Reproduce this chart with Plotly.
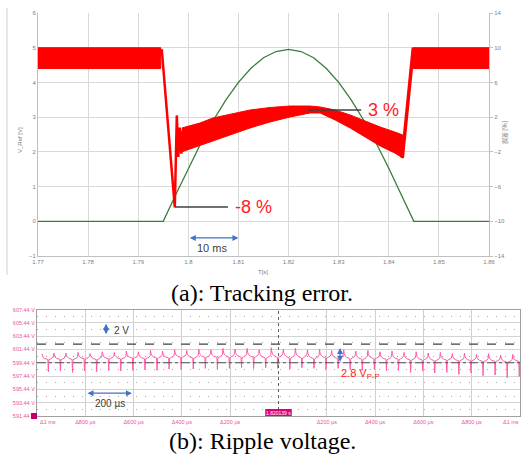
import plotly.graph_objects as go

W, H = 523, 458

# ---------------- (a) tracking error data ----------------
top_xticks = [1.77, 1.78, 1.79, 1.80, 1.81, 1.82, 1.83, 1.84, 1.85, 1.86]
top_xlabels = ["1.77", "1.78", "1.79", "1.8", "1.81", "1.82", "1.83", "1.84", "1.85", "1.86"]
left_ticks = [-1, 0, 1, 2, 3, 4, 5, 6]
right_ticks = [-14, -10, -6, -2, 2, 6, 10, 14]

# reference voltage V_Ref [V]
green_t = [1.77, 1.795, 1.7975, 1.80, 1.8025, 1.805, 1.8075, 1.81, 1.8125, 1.815, 1.8175,
           1.82, 1.8225, 1.825, 1.8275, 1.83, 1.8325, 1.835, 1.8375, 1.84, 1.8425, 1.845, 1.86]
green_v = [0, 0, 0.77, 1.53, 2.25, 2.91, 3.50, 4.00, 4.41, 4.71, 4.89,
           4.95, 4.89, 4.71, 4.41, 4.00, 3.50, 2.91, 2.25, 1.53, 0.77, 0, 0]

# error [%] : noisy band envelopes
band1_t = [1.77, 1.7945]
band1_hi = [10.0, 10.0]
band1_lo = [7.6, 7.6]

band2_t = [1.7987, 1.8023, 1.8049, 1.8083, 1.8123, 1.8163, 1.8203, 1.8243, 1.8263,
           1.8293, 1.8323, 1.8353, 1.8383, 1.8412, 1.8428]
band2_hi = [0.75, 1.32, 1.90, 2.36, 2.82, 3.11, 3.28, 3.28, 3.17, 2.82, 2.25, 1.55, 0.86, 0.29, -0.06]
band2_lo = [-2.0, -1.33, -0.75, -0.06, 0.75, 1.44, 2.02, 2.48, 2.48, 1.67, 0.75, -0.29, -1.33, -2.13, -2.71]

band3_t = [1.8448, 1.86]
band3_hi = [10.0, 10.0]
band3_lo = [7.6, 7.6]

drop_t = [1.7944, 1.7947, 1.7973, 1.7975, 1.7977, 1.7980, 1.7983, 1.7986, 1.7989]
drop_v = [9.2, 9.8, -8.4, -3.0, 2.2, -2.6, 0.8, -2.2, 0.5]

rise_t = [1.8427, 1.8444, 1.8449]
rise_v = [-2.7, 7.6, 10.0]

# ---------------- (b) ripple voltage data ----------------
osc_xticks = [-800, -600, -400, -200, 200, 400, 600, 800]
osc_xlabels = ["Δ800 µs", "Δ600 µs", "Δ400 µs", "Δ200 µs", "Δ200 µs", "Δ400 µs", "Δ600 µs", "Δ800 µs"]
osc_yticks = [591.44, 593.44, 595.44, 597.44, 599.44, 601.44, 603.44, 605.44, 607.44]
osc_ylabels = ["591.44 V", "593.44 V", "595.44 V", "597.44 V", "599.44 V",
               "601.44 V", "603.44 V", "605.44 V", "607.44 V"]

ripple_first_peak = -980.0   # µs
ripple_period = 50.0         # µs
ripple_peak = [600.8, 600.9, 600.9, 601.0, 600.8, 601.1, 601.0, 601.2, 601.1, 601.3,
               601.2, 601.4, 601.3, 601.5, 601.4, 601.6, 601.5, 601.6, 601.4, 601.7,
               601.5, 601.6, 601.4, 601.5, 601.3, 601.4, 601.2, 601.3, 601.1, 601.2,
               601.0, 601.1, 600.9, 601.0, 600.8, 600.9, 600.7, 600.8, 600.6, 600.7]
ripple_base = [599.9, 599.9, 599.9, 600.0, 599.9, 600.0, 600.0, 600.1, 600.0, 600.1,
               600.1, 600.2, 600.1, 600.2, 600.2, 600.2, 600.2, 600.2, 600.1, 600.2,
               600.1, 600.1, 600.0, 600.1, 600.0, 600.0, 599.9, 600.0, 599.9, 599.9,
               599.8, 599.8, 599.7, 599.8, 599.7, 599.7, 599.6, 599.6, 599.5, 599.6]
ripple_dip = [598.1, 598.2, 598.0, 598.2, 598.1, 598.3, 598.2, 598.3, 598.4, 598.3,
              598.5, 598.4, 598.5, 598.6, 598.5, 598.6, 598.7, 598.6, 598.7, 598.6,
              598.5, 598.7, 598.6, 598.5, 598.6, 598.4, 598.3, 598.4, 598.2, 598.3,
              598.0, 598.2, 597.9, 598.0, 597.7, 597.9, 597.5, 597.6, 597.2, 597.4]
shape_off = [0, 2, 6, 12, 20, 25, 27, 29, 36, 44, 48]
shape_w = [1.0, 0.6, 0.35, 0.2, 0.1, 0.05, None, 0.0, 0.12, 0.25, 0.45]

rip_x, rip_y = [], []
for i in range(len(ripple_peak)):
    t0 = ripple_first_peak + i * ripple_period
    p, b, d = ripple_peak[i], ripple_base[i], ripple_dip[i]
    for off, w in zip(shape_off, shape_w):
        rip_x.append(t0 + off)
        rip_y.append(d if w is None else b + w * (p - b))

RED = "#ff0000"
GREEN = "#3a7d3a"
BLUE = "#4472c4"
PINK = "#f0509a"
GRID = "#d9d9d9"

fig = go.Figure()

fig.add_trace(go.Scatter(x=green_t, y=green_v, xaxis="x", yaxis="y", mode="lines",
                         line=dict(color=GREEN, width=1.3)))
for bt, bh, bl in [(band1_t, band1_hi, band1_lo), (band2_t, band2_hi, band2_lo),
                   (band3_t, band3_hi, band3_lo)]:
    fig.add_trace(go.Scatter(x=bt + bt[::-1], y=bh + bl[::-1], xaxis="x", yaxis="y2",
                             mode="lines", fill="toself", fillcolor=RED,
                             line=dict(color=RED, width=1)))
fig.add_trace(go.Scatter(x=drop_t, y=drop_v, xaxis="x", yaxis="y2", mode="lines",
                         line=dict(color=RED, width=2.5)))
fig.add_trace(go.Scatter(x=rise_t, y=rise_v, xaxis="x", yaxis="y2", mode="lines",
                         line=dict(color=RED, width=3.5)))

fig.add_trace(go.Scatter(x=rip_x, y=rip_y, xaxis="x3", yaxis="y3", mode="lines",
                         line=dict(color="#ff5aa8", width=1)))

tick_font = dict(family="Liberation Sans, Arial", size=6, color="#808080")
osc_font = dict(family="Liberation Sans, Arial", size=5.5, color=PINK)

fig.update_layout(
    width=W, height=H, autosize=False,
    margin=dict(l=0, r=0, t=0, b=0),
    paper_bgcolor="white", plot_bgcolor="white",
    showlegend=False, hovermode=False,
    xaxis=dict(domain=[38 / W, 489 / W], range=[1.77, 1.86], anchor="y",
               tickvals=top_xticks, ticktext=top_xlabels, showgrid=True, gridcolor=GRID,
               showline=True, linecolor="#bfbfbf", zeroline=False, ticks="",
               tickfont=tick_font, automargin=False),
    yaxis=dict(domain=[1 - 256 / H, 1 - 13 / H], range=[-1, 6], anchor="x",
               tickvals=left_ticks, showgrid=True, gridcolor=GRID, showline=True,
               linecolor="#bfbfbf", zeroline=False, ticks="", tickfont=tick_font,
               automargin=False),
    yaxis2=dict(overlaying="y", side="right", range=[-14, 14], anchor="x",
                tickvals=right_ticks, showgrid=False, showline=True, linecolor="#bfbfbf",
                ticks="outside", ticklen=3, tickcolor="#bfbfbf", zeroline=False,
                tickfont=tick_font, automargin=False),
    xaxis3=dict(domain=[37 / W, 520 / W], range=[-1000, 1000], anchor="y3",
                tickvals=osc_xticks, ticktext=osc_xlabels, showgrid=True, gridcolor="#cfcfcf",
                showline=True, mirror=True, linecolor="#a0a0a0", zeroline=False, ticks="",
                tickfont=osc_font, automargin=False),
    yaxis3=dict(domain=[1 - 416 / H, 1 - 309.6 / H], range=[591.44, 607.44], anchor="x3",
                tickvals=osc_yticks, ticktext=osc_ylabels, showgrid=True, gridcolor="#d4d4d4",
                showline=True, mirror=True, linecolor="#a0a0a0", zeroline=False, ticks="",
                tickfont=osc_font, automargin=False,
                minor=dict(tick0=592.44, dtick=2, showgrid=True, griddash="1px,8px",
                           gridcolor="#a8a8a8", ticks="")),
)

shapes = [
    # chart-area border on the left of (a)
    dict(type="line", xref="paper", yref="paper", x0=7 / W, x1=7 / W, y0=1 - 8 / H, y1=1 - 275 / H,
         line=dict(color="#d0d0d0", width=1)),
    # leader lines
    dict(type="line", xref="x", yref="y2", x0=1.7974, x1=1.8079, y0=-8.36, y1=-8.36,
         line=dict(color="#404040", width=1.5)),
    dict(type="line", xref="x", yref="y2", x0=1.8239, x1=1.8345, y0=2.82, y1=2.82,
         line=dict(color="#404040", width=1.5)),
    # oscilloscope lines
    dict(type="line", xref="x3", yref="y3", x0=0, x1=0, y0=591.44, y1=607.44,
         line=dict(color="#606060", width=1, dash="dot")),
    dict(type="line", xref="x3", yref="y3", x0=-1000, x1=1000, y0=602.24, y1=602.24,
         line=dict(color="#404040", width=1.3, dash="dash")),
    dict(type="line", xref="x3", yref="y3", x0=-1000, x1=1000, y0=599.44, y1=599.44,
         line=dict(color="#505050", width=1.1, dash="dashdot")),
    # trigger time box and ground marker
    dict(type="rect", xref="x3", yref="paper", x0=-55, x1=55, y0=1 - 416 / H, y1=1 - 409 / H,
         fillcolor="#e0007a", line=dict(width=0)),
    dict(type="rect", xref="paper", yref="paper", x0=31 / W, x1=37 / W, y0=1 - 419 / H,
         y1=1 - 413 / H, fillcolor="#c0006a", line=dict(width=0)),
]
fig.update_layout(shapes=shapes)

ann_font = dict(family="Liberation Sans, Arial", color="#404040")
C = dict(xanchor="center", yanchor="middle", showarrow=False)
L = dict(xanchor="left", yanchor="middle", showarrow=False)
annotations = [
    # axis titles (a)
    dict(C, xref="paper", yref="paper", x=20 / W, y=1 - 140 / H, text="V_Ref [V]", textangle=-90,
         font=dict(family="Liberation Sans, Arial", size=6, color="#808080")),
    dict(C, xref="paper", yref="paper", x=505 / W, y=1 - 133 / H, text="誤差 [%]", textangle=-90,
         font=dict(family="Noto Sans CJK JP", size=6, color="#808080")),
    dict(C, xref="paper", yref="paper", x=263 / W, y=1 - 272 / H, text="T[s]",
         font=dict(family="Liberation Sans, Arial", size=6, color="#808080")),
    # value callouts
    dict(L, xref="x", yref="y2", x=1.8089, y=-8.36, text="-8 %",
         font=dict(family="Liberation Sans, Arial", size=18, color="#ff2020")),
    dict(L, xref="x", yref="y2", x=1.8355, y=2.82, text="3 %",
         font=dict(family="Liberation Sans, Arial", size=18, color="#ff2020")),
    # 10 ms arrow
    dict(xref="x", yref="y", axref="x", ayref="y", x=1.81, y=-0.48, ax=1.80, ay=-0.48,
         text="", showarrow=True, arrowhead=2, arrowside="end+start", arrowsize=1,
         arrowwidth=1.2, arrowcolor=BLUE),
    dict(C, xref="x", yref="y", x=1.8047, y=-0.78, text="10 ms", font=dict(ann_font, size=11)),
    # oscilloscope annotations
    dict(xref="x3", yref="y3", axref="x3", ayref="y3", x=-714, y=605.3, ax=-714, ay=603.5,
         text="", showarrow=True, arrowhead=2, arrowside="end+start", arrowsize=1,
         arrowwidth=1.2, arrowcolor=BLUE),
    dict(L, xref="x3", yref="y3", x=-690, y=604.3, text="2 V", font=dict(ann_font, size=10)),
    dict(xref="x3", yref="y3", axref="x3", ayref="y3", x=-607, y=594.87, ax=-797, ay=594.87,
         text="", showarrow=True, arrowhead=2, arrowside="end+start", arrowsize=1,
         arrowwidth=1.2, arrowcolor=BLUE),
    dict(C, xref="x3", yref="y3", x=-698, y=593.3, text="200 µs", font=dict(ann_font, size=10)),
    dict(xref="x3", yref="y3", axref="x3", ayref="y3", x=255, y=599.6, ax=255, ay=601.9,
         text="", showarrow=True, arrowhead=2, arrowside="end+start", arrowsize=1,
         arrowwidth=1.2, arrowcolor=BLUE),
    dict(L, xref="x3", yref="y3", x=250, y=597.8, text="2.8 V<sub>P-P</sub>",
         font=dict(family="Liberation Sans, Arial", size=11, color="#ff2020")),
    dict(C, xref="x3", yref="paper", x=0, y=1 - 412.5 / H, text="1.820139 s",
         font=dict(family="Liberation Sans, Arial", size=5, color="white")),
    dict(L, xref="paper", yref="paper", x=38 / W, y=1 - 422 / H, text="Δ1 ms", font=osc_font),
    dict(xref="paper", yref="paper", x=521 / W, y=1 - 422 / H, text="Δ1 ms", xanchor="right",
         yanchor="middle", showarrow=False, font=osc_font),
    # captions
    dict(C, xref="paper", yref="paper", x=262 / W, y=1 - 293 / H, text="(a): Tracking error.",
         font=dict(family="Liberation Serif, Times New Roman", size=24, color="black")),
    dict(C, xref="paper", yref="paper", x=262 / W, y=1 - 441 / H, text="(b): Ripple voltage.",
         font=dict(family="Liberation Serif, Times New Roman", size=24, color="black")),
]
fig.update_layout(annotations=annotations)

fig.write_html("out.html", config={"displayModeBar": False, "staticPlot": True},
               post_script="document.body.style.margin='0px';document.body.style.overflow='hidden';")
